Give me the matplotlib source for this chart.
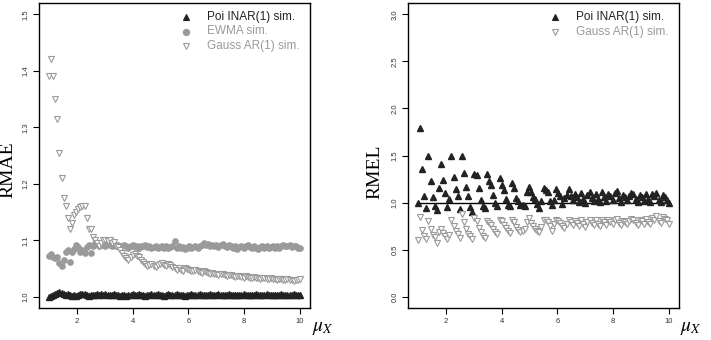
import numpy as np
import matplotlib
matplotlib.use('Agg')
import matplotlib.pyplot as plt

plt.rcParams['font.family'] = ['Liberation Sans', 'DejaVu Sans']

# grid of process means
mu = np.linspace(1, 10, 121)

# RMAE (left panel)
rmae_poi = [
    1.000, 1.002, 1.003, 1.005, 1.007, 1.008, 1.006, 1.004, 1.003, 1.004,
    1.003, 1.002, 1.003, 1.002, 1.003, 1.004, 1.005, 1.004, 1.003, 1.002,
    1.003, 1.003, 1.003, 1.004, 1.003, 1.004, 1.003, 1.004, 1.003, 1.003,
    1.003, 1.004, 1.003, 1.003, 1.002, 1.003, 1.003, 1.002, 1.003, 1.003,
    1.004, 1.003, 1.003, 1.004, 1.003, 1.003, 1.002, 1.003, 1.003, 1.004,
    1.003, 1.003, 1.004, 1.003, 1.003, 1.002, 1.003, 1.004, 1.003, 1.003,
    1.003, 1.004, 1.003, 1.003, 1.003, 1.002, 1.003, 1.003, 1.004, 1.003,
    1.003, 1.003, 1.004, 1.003, 1.003, 1.003, 1.003, 1.004, 1.003, 1.003,
    1.003, 1.004, 1.003, 1.003, 1.003, 1.003, 1.004, 1.003, 1.003, 1.003,
    1.003, 1.003, 1.003, 1.004, 1.003, 1.003, 1.003, 1.003, 1.003, 1.004,
    1.003, 1.003, 1.003, 1.003, 1.004, 1.003, 1.003, 1.003, 1.003, 1.003,
    1.003, 1.004, 1.003, 1.003, 1.003, 1.003, 1.003, 1.004, 1.003, 1.003,
    1.003]
rmae_ewma = [
    1.072, 1.075, 1.070, 1.068, 1.070, 1.060, 1.055, 1.065, 1.080, 1.082,
    1.062, 1.080, 1.085, 1.092, 1.088, 1.080, 1.082, 1.078, 1.088, 1.092,
    1.078, 1.090, 1.095, 1.093, 1.090, 1.092, 1.095, 1.090, 1.093, 1.092,
    1.090, 1.093, 1.090, 1.092, 1.088, 1.090, 1.092, 1.090, 1.087, 1.090,
    1.091, 1.088, 1.090, 1.087, 1.090, 1.089, 1.092, 1.088, 1.090, 1.087,
    1.088, 1.090, 1.086, 1.088, 1.090, 1.087, 1.089, 1.086, 1.088, 1.090,
    1.098, 1.087, 1.089, 1.086, 1.088, 1.085, 1.087, 1.090, 1.086, 1.088,
    1.089, 1.087, 1.090, 1.092, 1.095, 1.091, 1.093, 1.090, 1.092, 1.089,
    1.091, 1.088, 1.092, 1.094, 1.090, 1.088, 1.091, 1.089, 1.087, 1.090,
    1.085, 1.088, 1.090, 1.087, 1.089, 1.091, 1.088, 1.086, 1.090, 1.087,
    1.085, 1.088, 1.090, 1.087, 1.089, 1.086, 1.088, 1.090, 1.087, 1.089,
    1.086, 1.090, 1.092, 1.090, 1.089, 1.091, 1.088, 1.090, 1.089, 1.087,
    1.087]
rmae_gauss = [
    1.390, 1.420, 1.390, 1.350, 1.315, 1.255, 1.210, 1.175, 1.160, 1.140,
    1.120, 1.130, 1.145, 1.150, 1.155, 1.158, 1.160, 1.160, 1.140, 1.120,
    1.120, 1.105, 1.100, 1.095, 1.090, 1.095, 1.100, 1.100, 1.098, 1.100,
    1.095, 1.097, 1.090, 1.088, 1.083, 1.078, 1.072, 1.068, 1.065, 1.070,
    1.073, 1.075, 1.072, 1.070, 1.065, 1.062, 1.058, 1.055, 1.057, 1.058,
    1.055, 1.053, 1.056, 1.058, 1.060, 1.057, 1.055, 1.058, 1.056, 1.053,
    1.050, 1.048, 1.050, 1.048, 1.046, 1.050, 1.049, 1.047, 1.045, 1.046,
    1.048, 1.045, 1.043, 1.042, 1.045, 1.044, 1.042, 1.040, 1.042, 1.041,
    1.040, 1.039, 1.041, 1.040, 1.038, 1.037, 1.039, 1.038, 1.036, 1.035,
    1.037, 1.036, 1.035, 1.034, 1.036, 1.035, 1.034, 1.033, 1.035, 1.034,
    1.033, 1.032, 1.034, 1.033, 1.032, 1.031, 1.033, 1.032, 1.031, 1.030,
    1.032, 1.031, 1.030, 1.029, 1.031, 1.030, 1.029, 1.028, 1.030, 1.029,
    1.031]

# RMEL (right panel)
rmel_poi = [
    1.00, 1.79, 1.36, 1.07, 0.94, 1.50, 1.23, 1.06, 0.96, 0.92,
    1.15, 1.41, 1.24, 1.10, 0.95, 1.04, 1.49, 1.27, 1.14, 1.07,
    0.93, 1.50, 1.31, 1.17, 1.07, 0.95, 0.90, 1.30, 1.29, 1.16,
    1.03, 0.96, 0.94, 1.30, 1.23, 1.19, 1.08, 1.00, 0.96, 1.26,
    1.19, 1.13, 1.04, 0.97, 0.96, 1.21, 1.16, 1.05, 1.02, 0.97,
    0.97, 0.96, 1.11, 1.17, 1.11, 1.06, 1.04, 0.98, 0.94, 1.02,
    1.15, 1.13, 1.11, 1.02, 0.97, 1.03, 1.14, 1.10, 1.07, 0.99,
    1.05, 1.08, 1.14, 1.07, 1.03, 1.09, 1.06, 1.01, 1.10, 1.04,
    1.00, 1.08, 1.11, 1.05, 1.02, 1.09, 1.04, 1.01, 1.11, 1.06,
    1.02, 1.09, 1.07, 1.03, 1.10, 1.12, 1.05, 1.01, 1.08, 1.06,
    1.03, 1.07, 1.10, 1.09, 1.04, 1.01, 1.08, 1.06, 1.02, 1.09,
    1.04, 1.01, 1.09, 1.07, 1.10, 1.03, 1.01, 1.08, 1.06, 1.03,
    1.00]
rmel_gauss = [
    0.60, 0.85, 0.71, 0.64, 0.61, 0.80, 0.72, 0.66, 0.63, 0.57,
    0.69, 0.72, 0.68, 0.65, 0.61, 0.66, 0.82, 0.75, 0.70, 0.67,
    0.62, 0.88, 0.79, 0.72, 0.67, 0.64, 0.61, 0.84, 0.80, 0.73,
    0.69, 0.65, 0.62, 0.80, 0.78, 0.76, 0.72, 0.69, 0.67, 0.81,
    0.80, 0.76, 0.73, 0.70, 0.68, 0.81, 0.79, 0.74, 0.71, 0.69,
    0.70, 0.72, 0.79, 0.84, 0.78, 0.75, 0.72, 0.70, 0.69, 0.74,
    0.82, 0.81, 0.79, 0.75, 0.70, 0.77, 0.82, 0.80, 0.78, 0.75,
    0.73, 0.77, 0.82, 0.79, 0.76, 0.80, 0.78, 0.75, 0.81, 0.77,
    0.74, 0.79, 0.82, 0.78, 0.76, 0.81, 0.77, 0.75, 0.82, 0.79,
    0.76, 0.81, 0.79, 0.77, 0.82, 0.83, 0.78, 0.76, 0.80, 0.79,
    0.77, 0.80, 0.83, 0.82, 0.78, 0.76, 0.81, 0.80, 0.77, 0.83,
    0.79, 0.77, 0.84, 0.82, 0.86, 0.80, 0.78, 0.85, 0.83, 0.81,
    0.77]

dark = '#222222'
grey = '#9a9a9a'

fig = plt.figure(figsize=(7.11, 3.4), dpi=100)
ax1 = fig.add_axes([39/711, 32/340, 271/711, 305/340])
ax2 = fig.add_axes([408/711, 32/340, 271/711, 305/340])


def style(ax, yticks):
    ax.set_xlim(0.64, 10.36)
    ax.set_xticks([2, 4, 6, 8, 10])
    ax.set_yticks(yticks)
    ax.set_yticklabels(['%.1f' % t for t in yticks], rotation=90, va='center')
    ax.tick_params(direction='out', length=4, width=0.8, labelsize=5.5,
                   labelcolor='#333333', pad=3)
    for s in ax.spines.values():
        s.set_linewidth(1.0)
        s.set_color('black')


# left: RMAE
ax1.plot(mu, rmae_poi, '^', ms=4.3, color=dark, mec=dark, ls='none')
ax1.plot(mu, rmae_ewma, 'o', ms=3.8, color=grey, mec=grey, ls='none')
ax1.plot(mu, rmae_gauss, 'v', ms=4.5, mfc='white', mec=grey, mew=0.8, ls='none')
ax1.set_ylim(0.98, 1.52)
style(ax1, [1.0, 1.1, 1.2, 1.3, 1.4, 1.5])

# right: RMEL
ax2.hlines(1, mu[0], mu[-1], color='black', lw=1)
ax2.plot(mu, rmel_poi, '^', ms=4.5, color=dark, mec=dark, ls='none')
ax2.plot(mu, rmel_gauss, 'v', ms=4.5, mfc='white', mec=grey, mew=0.8, ls='none')
ax2.set_ylim(-0.12, 3.12)
style(ax2, [0.0, 0.5, 1.0, 1.5, 2.0, 2.5, 3.0])

# legends, R-style without frame and with coloured text
leg_font = 8.5
for ax, rows in [(ax1, [('^', dark, dark, 'Poi INAR(1) sim.'),
                        ('o', grey, grey, 'EWMA sim.'),
                        ('v', 'white', grey, 'Gauss AR(1) sim.')]),
                 (ax2, [('^', dark, dark, 'Poi INAR(1) sim.'),
                        ('v', 'white', grey, 'Gauss AR(1) sim.')])]:
    x0 = ax.get_position().x0 * 711
    mx = 147 if ax is ax1 else 147
    for i, (m, fc, ec, lab) in enumerate(rows):
        ypx = 17 + i * 14.5
        fig.lines.append(plt.Line2D([(x0 + mx) / 711], [1 - ypx / 340], marker=m,
                                    ms=4.5, mfc=fc, mec=ec, mew=0.8, ls='none',
                                    transform=fig.transFigure))
        fig.text((x0 + mx + 21) / 711, 1 - ypx / 340, lab, fontsize=leg_font,
                 color=ec if ec != dark else dark, va='center', ha='left')

# axis titles in serif
serif = ['Liberation Serif', 'DejaVu Serif']
fig.text(8/711, 1 - 170/340, 'RMAE', rotation=90, fontsize=14, family=serif,
         ha='center', va='center')
fig.text(375/711, 1 - 172/340, 'RMEL', rotation=90, fontsize=14, family=serif,
         ha='center', va='center')
plt.rcParams['mathtext.fontset'] = 'stix'
fig.text(312/711, 1 - 337/340, r'$\mu_X$', fontsize=14, ha='left', va='bottom')
fig.text(680/711, 1 - 337/340, r'$\mu_X$', fontsize=14, ha='left', va='bottom')

fig.savefig('out.png', dpi=100)
